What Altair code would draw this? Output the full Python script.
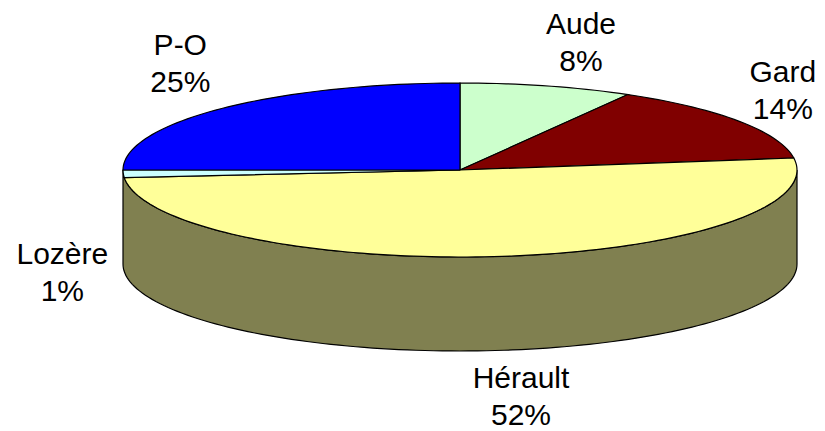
import math
import altair as alt

# --- chart values
categories = ["Aude", "Gard", "Hérault", "Lozère", "P-O"]
label_percents = [8, 14, 52, 1, 25]
slice_shares = [8.3, 14.5, 50.8, 1.4, 25.0]
colours = ["#CCFFCC", "#800000", "#FFFF99", "#CCFFFF", "#0000FF"]
side_colour = "#808050"

# --- pie geometry (unit = horizontal radius)
RADIUS_PX = 337
TILT = 87 / 337
DEPTH = 94 / 337
CENTRE = [452, 162]
# label anchors in pie units, per category
label_anchor = {
    "Aude": (0.359, 1.67 * TILT),
    "Gard": (0.958, 1.11 * TILT),
    "Hérault": (0.181, -2.40 * TILT),
    "Lozère": (-1.18, -0.98 * TILT),
    "P-O": (-0.83, 1.43 * TILT),
}


def rim(a, drop=0.0):
    r = math.radians(a)
    return [math.sin(r), TILT * math.cos(r) - drop]


def arc(a0, a1, drop=0.0, step=1.5):
    n = max(1, int(abs(a1 - a0) / step))
    return [rim(a0 + (a1 - a0) * i / n, drop) for i in range(n + 1)]


def feature(name, ring):
    return {
        "type": "Feature",
        "properties": {"name": name},
        "geometry": {"type": "Polygon", "coordinates": [ring + [ring[0]]]},
    }


# wall of the disc: front half of the rim, dropped by the depth
wall = arc(90, 270) + arc(270, 90, DEPTH)
slices = []
cum = 0
rows = []
for name, pct, share in zip(categories, label_percents, slice_shares):
    a0, a1 = cum * 3.6, (cum + share) * 3.6
    slices.append(feature(name, [[0.0, 0.0]] + arc(a0, a1)))
    lon, lat = label_anchor[name]
    rows.append({"label": f"{name}\n{pct}%", "lon": lon, "lat": lat})
    cum += share

wall_layer = alt.Chart(alt.Data(values=[feature("wall", wall)])).mark_geoshape(
    fill=side_colour, stroke="black", strokeWidth=1.2
)

top_layer = alt.Chart(alt.Data(values=slices)).mark_geoshape(
    stroke="black", strokeWidth=1.2
).encode(
    fill=alt.Fill(
        "properties.name:N",
        scale=alt.Scale(domain=categories, range=colours),
        legend=None,
    )
)

text_layer = alt.Chart(alt.Data(values=rows)).mark_text(
    font="Liberation Sans",
    fontSize=30,
    lineHeight=37,
    lineBreak="\n",
    color="black",
    align="center",
    baseline="middle",
).encode(longitude="lon:Q", latitude="lat:Q", text="label:N")

chart = (
    alt.layer(wall_layer, top_layer, text_layer)
    .project(type="identity", reflectY=True, scale=RADIUS_PX, translate=CENTRE)
    .properties(width=809, height=423, padding=0, autosize=alt.AutoSizeParams(type="none"))
    .configure_view(stroke=None)
)

chart.save("out.html", embed_options={"renderer": "svg", "actions": False})
